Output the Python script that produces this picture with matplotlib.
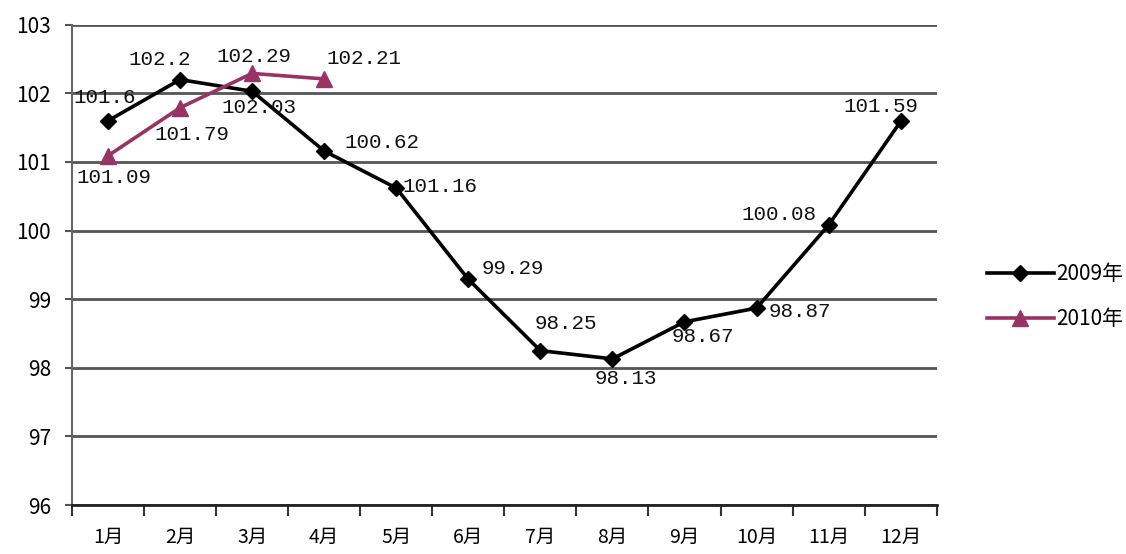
import matplotlib
matplotlib.use("Agg")
import matplotlib.pyplot as plt
import numpy as np

plt.rcParams['font.family'] = ['Noto Sans CJK SC', 'DejaVu Sans']

months = ['1月', '2月', '3月', '4月', '5月', '6月', '7月', '8月', '9月', '10月', '11月', '12月']
y2009 = [101.6, 102.2, 102.03, 101.16, 100.62, 99.29, 98.25, 98.13, 98.67, 98.87, 100.08, 101.59]
y2010 = [101.09, 101.79, 102.29, 102.21]
# label texts as printed on the chart (4 and 5 appear swapped in the source)
lab2009 = ['101.6', '102.2', '102.03', '100.62', '101.16', '99.29', '98.25', '98.13', '98.67', '98.87', '100.08', '101.59']
lab2010 = ['101.09', '101.79', '102.29', '102.21']

# label offsets in pixels (dx, dy) and alignment
off2009 = [(-3, 23, 'center'), (-20, 20, 'center'), (7, -16, 'center'), (20, 8, 'left'),
           (6, 2, 'left'), (13, 11, 'left'), (26, 27, 'center'), (13, -20, 'center'),
           (18, -15, 'center'), (12, -3, 'left'), (-12, 11, 'right'), (-20, 15, 'center')]
off2010 = [(6, -22, 'center'), (12, -27, 'center'), (2, 17, 'center'), (40, 20, 'center')]

c2009 = 'black'
c2010 = '#993366'

fig = plt.figure(figsize=(11.26, 5.54), dpi=100)
ax = fig.add_axes([0.0639, 0.0884, 0.768, 0.867])

x = np.arange(len(months))
ax.plot(x, y2009, color=c2009, lw=2.6, marker='D', ms=8, label='2009年', zorder=3)
ax.plot(x[:len(y2010)], y2010, color=c2010, lw=2.6, marker='^', ms=11, label='2010年', zorder=3)

lblfont = dict(family=['Liberation Mono', 'DejaVu Sans Mono'], fontsize=15, color='#111111')
for xi, yi, t, (dx, dy, ha) in zip(x, y2009, lab2009, off2009):
    ax.annotate(t, (xi, yi), xytext=(dx, dy), textcoords='offset pixels',
                ha=ha, va='center', zorder=4, **lblfont)
for xi, yi, t, (dx, dy, ha) in zip(x, y2010, lab2010, off2010):
    ax.annotate(t, (xi, yi), xytext=(dx, dy), textcoords='offset pixels',
                ha=ha, va='center', zorder=4, **lblfont)

ax.set_ylim(96, 103)
ax.set_xlim(-0.5, len(months) - 0.5)
ax.set_yticks(range(96, 104))
ax.yaxis.grid(True, color='#555555', lw=2)
ax.set_axisbelow(True)

ax.set_xticks(np.arange(-0.5, len(months), 1.0))
ax.set_xticklabels([])
ax.set_xticks(x, minor=True)
ax.set_xticklabels(months, minor=True, fontsize=14)
ax.tick_params(axis='x', which='major', length=8, width=1.5, color='#333333', direction='out')
ax.tick_params(axis='x', which='minor', length=0, pad=16)
ax.tick_params(axis='y', length=5, width=1.5, color='#555555', labelsize=15, pad=10)

for s in ['top', 'right']:
    ax.spines[s].set_visible(False)
ax.spines['left'].set_color('#666666')
ax.spines['left'].set_linewidth(1.5)
ax.spines['bottom'].set_color('#222222')
ax.spines['bottom'].set_linewidth(2)

fig.legend(loc='center left', bbox_to_anchor=(0.86, 0.465), frameon=False,
           fontsize=15, handlelength=3.2, labelspacing=1.1, handletextpad=0.1)

fig.savefig('out.png', dpi=100)
